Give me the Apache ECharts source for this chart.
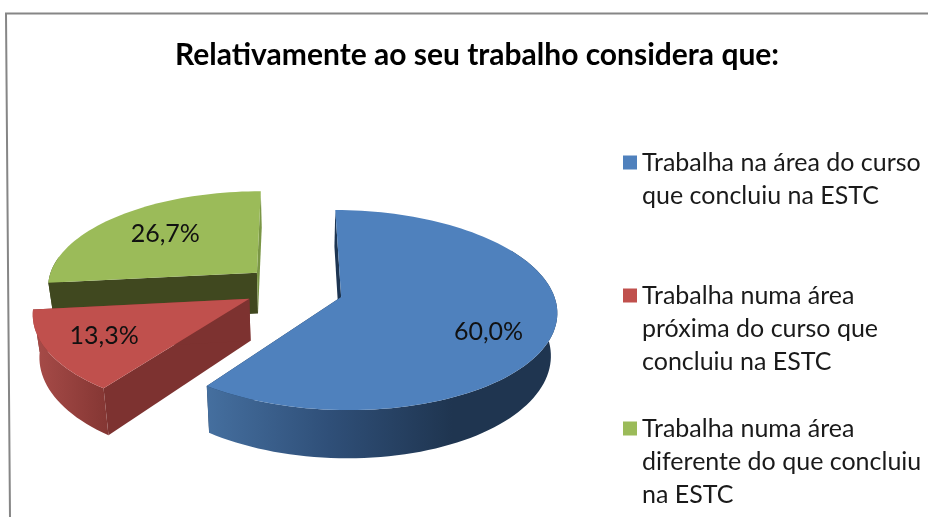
<!DOCTYPE html>
<html style="height: 100%">
<head>
  <meta charset="utf-8">
  <script src="https://cdn.jsdelivr.net/npm/echarts@6/dist/echarts.min.js"></script>
</head>
<body style="height: 100%; margin: 0; background: #fff">
<div id="main" style="width: 928px; height: 517px"></div>
<script>
var categories = [
  'Trabalha na área do curso\nque concluiu na ESTC',
  'Trabalha numa área\npróxima do curso que\nconcluiu na ESTC',
  'Trabalha numa área\ndiferente do que concluiu\nna ESTC'
];
var values = [60.0, 13.3, 26.7];
var titleText = 'Relativamente ao seu trabalho considera que:';

// styling per slice, same order as categories
var topColors = ['#4f81bd', '#c0504d', '#9bbb59'];
var startWallColors = ['#1d3552', '#7d3230', '#40481f'];
var endWallColors = ['#1d3552', '#7d3230', '#7a9645'];
var arcStops = [
  [[0, '#456f9f'], [0.35, '#2f4f78'], [0.7, '#1f3550'], [1, '#1f3550']],
  [[0, '#a84c49'], [1, '#843633']],
  [[0, '#40481f'], [1, '#40481f']]
];
// how far each slice is pulled out, on the plane of the pie
var offsets = [[0.235, 0.066], [-0.195, 0.085], [-0.165, -0.187]];
var labelShift = [9, 3, 3];
var labelRadius = [0.73, 0.72, 0.68];
var labelDrop = [1, 3, 3];
var firstLineY = [162.5, 295.5, 428.5];

var pie = {cx: 291, cy: 290.5, rx: 211.5, ry: 96.6, k: 0.1305, depth: 41.5, vx: 300, shrink: 0.025, start: 0};
var fontName = 'Lato, Carlito, sans-serif';

var total = values.reduce(function (a, b) { return a + b; }, 0);
var angles = [];
var acc = pie.start;
values.forEach(function (v) {
  var sweep = v / total * 360;
  angles.push([acc, acc + sweep]);
  acc += sweep;
});

// plane coordinates -> screen, with a little perspective
function project(X, Y, low) {
  var s = 1 / (1 - pie.k * Y);
  var x = pie.cx + pie.rx * X * s;
  var y = pie.cy + pie.ry * Y * s;
  if (low) {
    x = pie.vx + (x - pie.vx) * (1 - pie.shrink);
    y += pie.depth * s;
  }
  return [x, y];
}

function rimPoint(i, deg, r, low) {
  var a = deg * Math.PI / 180;
  return project(offsets[i][0] + r * Math.sin(a), offsets[i][1] - r * Math.cos(a), low);
}

function arcPoints(i, from, to, low) {
  var pts = [];
  var n = Math.ceil((to - from) / 2);
  for (var j = 0; j <= n; j++) {
    pts.push(rimPoint(i, from + (to - from) * j / n, 1, low));
  }
  return pts;
}

function renderSlice(i) {
  return function () {
    var from = angles[i][0], to = angles[i][1];
    var top = arcPoints(i, from, to, false);
    var apex = rimPoint(i, 0, 0, false);
    var apexLow = rimPoint(i, 0, 0, true);
    // only the part of the rim that faces the viewer gets a wall
    var frontFrom = Math.max(from, 60), frontTo = Math.min(to, 280);
    var rimTop = arcPoints(i, frontFrom, frontTo, false);
    var rimLow = arcPoints(i, frontFrom, frontTo, true);
    var children = [
      {type: 'polygon', shape: {points: [apex, rimPoint(i, from, 1, false), rimPoint(i, from, 1, true), apexLow]},
        style: {fill: startWallColors[i]}},
      {type: 'polygon', shape: {points: [apex, rimPoint(i, to, 1, false), rimPoint(i, to, 1, true), apexLow]},
        style: {fill: endWallColors[i]}},
      {type: 'polygon', shape: {points: rimTop.concat(rimLow.slice().reverse())},
        style: {fill: new echarts.graphic.LinearGradient(0, 0, 1, 0, arcStops[i].map(function (s) {
          return {offset: s[0], color: s[1]};
        }))}},
      {type: 'polygon', shape: {points: [apex].concat(top)}, style: {fill: topColors[i]}}
    ];
    var mid = (from + to) / 2 + labelShift[i];
    var lp = rimPoint(i, mid, labelRadius[i], false);
    children.push({
      type: 'text', x: lp[0], y: lp[1] + labelDrop[i],
      style: {
        text: values[i].toFixed(1).replace('.', ',') + '%',
        fill: '#111', font: '25px ' + fontName, align: 'center', verticalAlign: 'middle'
      }
    });
    return {type: 'group', children: children};
  };
}

var myChart = echarts.init(document.getElementById('main'));
var paintOrder = [3, 2, 1];
var lineHeight = 33;

var option = {
  animation: false,
  title: {
    text: titleText, left: 170, top: 35,
    textStyle: {fontFamily: fontName, fontSize: 30, fontWeight: 'bold', color: '#000'}
  },
  // one legend per entry: the gaps between entries differ, and the square sits on the first line
  legend: categories.map(function (c, i) {
    var lines = c.split('\n').length;
    var pad = '';
    for (var j = 1; j < lines; j++) pad += '\n';
    return {
      data: [c], left: 623, top: firstLineY[i] - (2 * lines - 1) * lineHeight / 2,
      orient: 'vertical', padding: 0,
      selectedMode: false, icon: 'rect', itemWidth: 14, itemHeight: 14, itemGap: 0,
      formatter: function (name) { return pad + name; },
      textStyle: {fontFamily: fontName, fontSize: 25, color: '#1a1a1a', lineHeight: lineHeight}
    };
  }),
  graphic: [{
    type: 'polyline', silent: true,
    shape: {points: [[928, 13.5], [6, 13.5], [10, 517]]},
    style: {stroke: '#868686', lineWidth: 2, fill: null}
  }],
  series: categories.map(function (c, i) {
    return {
      type: 'custom', name: c, coordinateSystem: 'none', silent: true, z: paintOrder[i],
      itemStyle: {color: topColors[i]},
      data: [[values[i]]],
      renderItem: renderSlice(i)
    };
  })
};
myChart.setOption(option);
</script>
</body>
</html>
